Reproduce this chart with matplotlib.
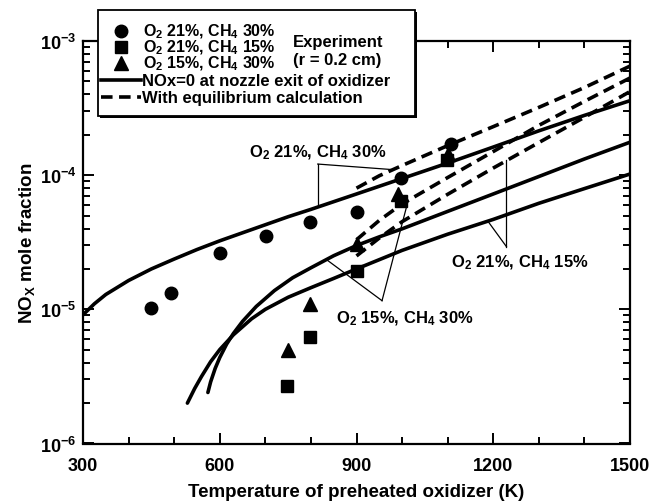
import matplotlib
matplotlib.use("Agg")
import matplotlib.pyplot as plt
from matplotlib.patches import Rectangle
from matplotlib.lines import Line2D
from matplotlib.ticker import LogLocator, MultipleLocator, FixedLocator, NullFormatter

plt.rcParams['font.family'] = ['Liberation Sans', 'DejaVu Sans']
plt.rcParams['font.weight'] = 'bold'
plt.rcParams['mathtext.fontset'] = 'custom'
plt.rcParams['mathtext.rm'] = 'Liberation Sans:bold'
plt.rcParams['mathtext.it'] = 'Liberation Sans:bold'
plt.rcParams['mathtext.bf'] = 'Liberation Sans:bold'

# experiment points
T_o21_c30 = [450, 492, 600, 701, 797, 900, 998, 1107]
nox_o21_c30 = [1.03e-5, 1.33e-5, 2.63e-5, 3.55e-5, 4.45e-5, 5.3e-5, 9.6e-5, 1.72e-4]
T_o21_c15 = [748, 798, 900, 997, 1098]
nox_o21_c15 = [2.7e-6, 6.2e-6, 1.93e-5, 6.4e-5, 1.3e-4]
T_o15_c30 = [750, 799, 900, 990, 1100]
nox_o15_c30 = [4.95e-6, 1.1e-5, 3.05e-5, 7.3e-5, 1.45e-4]

# calculation, NOx=0 at nozzle exit
Tc_o21_c30 = [300, 325, 350, 400, 450, 500, 550, 600, 650, 700, 750, 800,
              900, 1000, 1100, 1200, 1300, 1400, 1500]
c_o21_c30 = [9.1e-6, 1.10e-5, 1.29e-5, 1.64e-5, 2.0e-5, 2.37e-5, 2.79e-5, 3.24e-5, 3.72e-5,
             4.27e-5, 4.90e-5, 5.56e-5, 7.24e-5, 9.44e-5, 1.23e-4, 1.62e-4, 2.14e-4, 2.79e-4, 3.59e-4]
Tc_o15_c30 = [574, 580, 590, 600, 615, 630, 650, 680, 720, 760, 800, 850, 900, 950,
              1000, 1100, 1200, 1300, 1400, 1500]
c_o15_c30 = [2.40e-6, 2.88e-6, 3.63e-6, 4.37e-6, 5.50e-6, 6.61e-6, 8.13e-6, 1.05e-5, 1.38e-5,
             1.72e-5, 2.04e-5, 2.51e-5, 2.99e-5, 3.47e-5, 3.98e-5, 5.37e-5, 7.24e-5, 9.77e-5,
             1.32e-4, 1.76e-4]
Tc_o21_c15 = [529, 545, 560, 580, 600, 630, 670, 700, 750, 800, 850, 900, 1000, 1100,
              1200, 1300, 1400, 1500]
c_o21_c15 = [2.0e-6, 2.57e-6, 3.16e-6, 4.07e-6, 5.01e-6, 6.46e-6, 8.51e-6, 1.0e-5, 1.23e-5,
             1.45e-5, 1.70e-5, 2.0e-5, 2.75e-5, 3.63e-5, 4.68e-5, 6.17e-5, 7.94e-5, 1.02e-4]

# with equilibrium calculation
Te_o21_c30 = [900, 950, 1000, 1100, 1200, 1300, 1400, 1500]
e_o21_c30 = [8.0e-5, 9.9e-5, 1.18e-4, 1.66e-4, 2.3e-4, 3.2e-4, 4.5e-4, 6.5e-4]
Te_o15_c30 = [900, 950, 1000, 1100, 1200, 1300, 1400, 1500]
e_o15_c30 = [3.3e-5, 4.6e-5, 6.1e-5, 9.6e-5, 1.5e-4, 2.35e-4, 3.55e-4, 5.3e-4]
Te_o21_c15 = [900, 950, 1000, 1100, 1200, 1300, 1400, 1500]
e_o21_c15 = [2.5e-5, 3.4e-5, 4.5e-5, 7.2e-5, 1.13e-4, 1.75e-4, 2.7e-4, 4.2e-4]

fig = plt.figure(figsize=(6.52, 5.02), dpi=100)
ax = fig.add_axes([83 / 652, 1 - 444.5 / 502, 547 / 652, 402.5 / 502])

lw = 2.6
dash = (0, (3.2, 1.8))
for T, v in [(Tc_o21_c30, c_o21_c30), (Tc_o15_c30, c_o15_c30), (Tc_o21_c15, c_o21_c15)]:
    ax.plot(T, v, color='black', lw=lw, solid_capstyle='round', solid_joinstyle='round', zorder=2)
for T, v in [(Te_o21_c30, e_o21_c30), (Te_o15_c30, e_o15_c30), (Te_o21_c15, e_o21_c15)]:
    ax.plot(T, v, color='black', lw=lw, ls=dash, zorder=2)

ax.plot(T_o21_c30, nox_o21_c30, 'o', color='black', ms=9, zorder=3)
ax.plot(T_o21_c15, nox_o21_c15, 's', color='black', ms=9, zorder=3)
ax.plot(T_o15_c30, nox_o15_c30, '^', color='black', ms=10, zorder=3)

# callouts: text, text position, vertex, line ends
callouts = [
    ("O$_2$ 21%, CH$_4$ 30%", (815, 1.5e-4), (815, 1.21e-4), [(815, 6.0e-5), (979, 1.1e-4)]),
    ("O$_2$ 21%, CH$_4$ 15%", (1258, 2.25e-5), (1229, 2.93e-5), [(1229, 1.3e-4), (1188, 4.55e-5)]),
    ("O$_2$ 15%, CH$_4$ 30%", (1005, 8.7e-6), (956, 1.16e-5), [(834, 2.35e-5), (1013, 6.4e-5)]),
]
for txt, tpos, vtx, ends in callouts:
    for e in ends:
        ax.plot([vtx[0], e[0]], [vtx[1], e[1]], color='black', lw=0.9, zorder=1)
    ax.text(tpos[0], tpos[1], txt, fontsize=12, fontweight='bold', ha='center', va='center')

ax.set_yscale('log')
ax.set_xlim(300, 1500)
ax.set_ylim(1e-6, 1e-3)
ax.xaxis.set_major_locator(MultipleLocator(300))
ax.xaxis.set_minor_locator(MultipleLocator(100))
ax.yaxis.set_major_locator(FixedLocator([1e-6, 1e-5, 1e-4, 1e-3]))
ax.yaxis.set_minor_locator(LogLocator(base=10, subs=range(2, 10)))
ax.yaxis.set_minor_formatter(NullFormatter())
ax.set_yticklabels(['10$^{-6}$', '10$^{-5}$', '10$^{-4}$', '10$^{-3}$'])
ax.tick_params(which='both', direction='in', top=True, right=True, labelsize=13, width=1.4)
ax.tick_params(which='major', length=8)
ax.tick_params(which='minor', length=5)
ax.tick_params(axis='x', pad=10)
ax.tick_params(axis='y', pad=5)
for s in ax.spines.values():
    s.set_linewidth(1.6)
for lab in ax.get_xticklabels() + ax.get_yticklabels():
    lab.set_fontweight('bold')

ax.set_xlabel('Temperature of preheated oxidizer (K)', fontsize=13.5, fontweight='bold', labelpad=6)
ax.set_ylabel('NO$_X$ mole fraction', fontsize=13.5, fontweight='bold', labelpad=2)

# legend box drawn by hand (pixel positions)
def fx(x):
    return x / 652

def fy(y):
    return 1 - y / 502

fig.patches.append(Rectangle((fx(100), fy(119)), fx(317) - fx(0), fy(0) - fy(106),
                             transform=fig.transFigure, facecolor='black', edgecolor='none', zorder=4))
fig.patches.append(Rectangle((fx(98), fy(117)), fx(317) - fx(0), fy(0) - fy(106),
                             transform=fig.transFigure, facecolor='white', edgecolor='black',
                             lw=1.3, zorder=5))
leg_fs = 11.5
rows = [
    ('o', 9, "O$_2$ 21%, CH$_4$ 30%", 32),
    ('s', 9, "O$_2$ 21%, CH$_4$ 15%", 48),
    ('^', 10, "O$_2$ 15%, CH$_4$ 30%", 64),
]
for mk, ms, txt, y in rows:
    fig.add_artist(Line2D([fx(121)], [fy(y)], marker=mk, ms=ms, color='black',
                          transform=fig.transFigure, zorder=6))
    fig.text(fx(143), fy(y), txt, fontsize=leg_fs, fontweight='bold', va='center', ha='left', zorder=6)
fig.add_artist(Line2D([fx(101), fx(141)], [fy(81), fy(81)], color='black', lw=lw,
                      transform=fig.transFigure, zorder=6))
fig.text(fx(142), fy(81), 'NOx=0 at nozzle exit of oxidizer', fontsize=12, fontweight='bold',
         va='center', ha='left', zorder=6)
fig.add_artist(Line2D([fx(101), fx(141)], [fy(98), fy(98)], color='black', lw=lw, ls=dash,
                      transform=fig.transFigure, zorder=6))
fig.text(fx(142), fy(98), 'With equilibrium calculation', fontsize=12, fontweight='bold',
         va='center', ha='left', zorder=6)
fig.text(fx(293), fy(42), 'Experiment', fontsize=12, fontweight='bold', va='center', ha='left', zorder=6)
fig.text(fx(293), fy(60), '(r = 0.2 cm)', fontsize=12, fontweight='bold', va='center', ha='left', zorder=6)

fig.savefig('out.png', dpi=100)
